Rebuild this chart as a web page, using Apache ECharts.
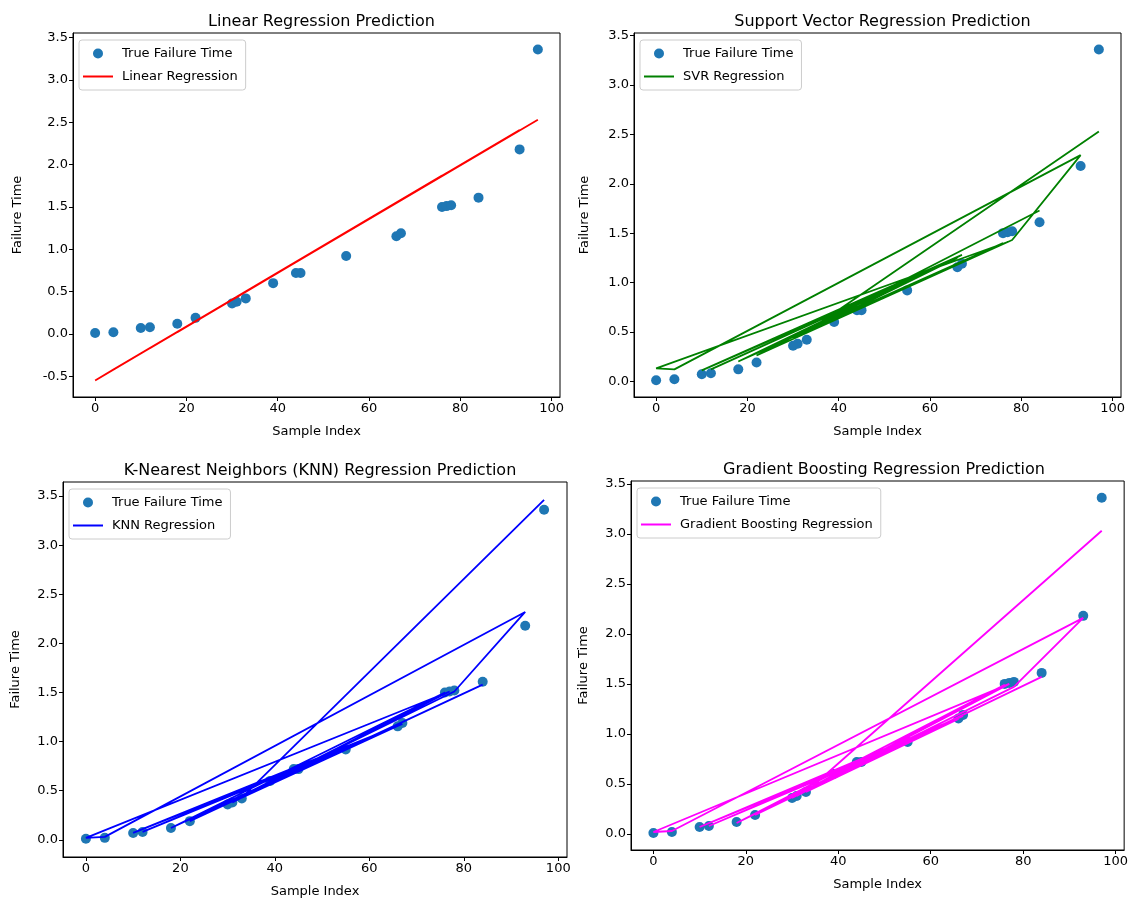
<!DOCTYPE html>
<html>
<head>
<meta charset="utf-8">
<script src="https://cdn.jsdelivr.net/npm/echarts@6.0.0/dist/echarts.min.js"></script>
<style>
  html, body { margin: 0; padding: 0; background: #fff; }
  #chart { width: 1131px; height: 902px; }
</style>
</head>
<body>
<div id="chart"></div>
<script>
// test samples, in the order the model predictions were plotted
const sampleIndex = [97, 33, 66, 12, 55, 10, 67, 39, 45, 18, 76, 31, 44, 30, 77, 0, 4, 93, 78, 22, 84];
const trueTime    = [3.36, 0.42, 1.155, 0.08, 0.92, 0.07, 1.19, 0.60, 0.72, 0.12, 1.50, 0.38, 0.72, 0.36, 1.51, 0.01, 0.02, 2.18, 1.52, 0.19, 1.61];
const linearPred  = [2.53, 0.50, 1.55, -0.17, 1.20, -0.23, 1.58, 0.69, 0.88, 0.02, 1.87, 0.44, 0.85, 0.40, 1.90, -0.55, -0.42, 2.41, 1.93, 0.15, 2.12];
const svrPred     = [2.53, 0.50, 1.25, 0.12, 1.02, 0.11, 1.28, 0.66, 0.80, 0.20, 1.40, 0.46, 0.77, 0.44, 1.41, 0.13, 0.12, 2.29, 1.43, 0.26, 1.73];
const knnPred     = [3.46, 0.43, 1.16, 0.08, 0.93, 0.07, 1.18, 0.60, 0.72, 0.12, 1.50, 0.38, 0.72, 0.37, 1.51, 0.02, 0.03, 2.32, 1.51, 0.19, 1.58];
const gbPred      = [3.03, 0.42, 1.15, 0.08, 0.92, 0.07, 1.18, 0.60, 0.72, 0.11, 1.49, 0.38, 0.72, 0.36, 1.50, 0.02, 0.03, 2.16, 1.47, 0.19, 1.57];

const xTicks = [0, 20, 40, 60, 80, 100];
const yTicksLinear = [-0.5, 0, 0.5, 1, 1.5, 2, 2.5, 3, 3.5];
const yTicks = [0, 0.5, 1, 1.5, 2, 2.5, 3, 3.5];

const titles = [
  "Linear Regression Prediction",
  "Support Vector Regression Prediction",
  "K-Nearest Neighbors (KNN) Regression Prediction",
  "Gradient Boosting Regression Prediction"
];
const modelNames = ["Linear Regression", "SVR Regression", "KNN Regression", "Gradient Boosting Regression"];
const modelColors = ["#ff0000", "#008000", "#0000ff", "#ff00ff"];
const preds = [linearPred, svrPred, knnPred, gbPred];

const FONT = "DejaVu Sans";
const LINE_ICON = "path://M0,0 L30,0 L30,2 L0,2 Z";

const grids = [
  { left: 73, top: 33, width: 487, height: 364 },
  { left: 634, top: 33, width: 487, height: 364 },
  { left: 63, top: 482, width: 504, height: 375 },
  { left: 631, top: 481, width: 496, height: 369 }
];
const yRanges = [[-0.745, 3.555], [-0.16, 3.5275], [-0.175, 3.643], [-0.16, 3.5275]];
const yNameGaps = [49, 43, 41, 41];

const chart = echarts.init(document.getElementById("chart"));

const option = {
  animation: false,
  backgroundColor: "#fff",
  textStyle: { fontFamily: FONT },
  title: [],
  grid: [],
  xAxis: [],
  yAxis: [],
  legend: [],
  series: []
};

grids.forEach((g, i) => {
  option.grid.push(Object.assign({ show: true, borderColor: "#000", borderWidth: 1, backgroundColor: "transparent" }, g));

  option.title.push({
    text: titles[i],
    left: g.left + g.width / 2,
    top: g.top - 24,
    textAlign: "center",
    textStyle: { fontFamily: FONT, fontSize: 16, fontWeight: "normal", color: "#000" }
  });

  option.xAxis.push({
    type: "value",
    gridIndex: i,
    min: -4.85,
    max: 101.85,
    name: "Sample Index",
    nameLocation: "middle",
    nameGap: 28,
    nameTextStyle: { fontFamily: FONT, fontSize: 13, color: "#000" },
    axisLine: { show: true, onZero: false, lineStyle: { color: "#000", width: 1 } },
    axisTick: { show: true, length: 4, lineStyle: { color: "#000" }, customValues: xTicks },
    axisLabel: { fontFamily: FONT, fontSize: 13, color: "#000", margin: 5, customValues: xTicks },
    splitLine: { show: false }
  });

  const ticks = i === 0 ? yTicksLinear : yTicks;
  option.yAxis.push({
    type: "value",
    gridIndex: i,
    min: yRanges[i][0],
    max: yRanges[i][1],
    name: "Failure Time",
    nameLocation: "middle",
    nameGap: yNameGaps[i],
    nameTextStyle: { fontFamily: FONT, fontSize: 13, color: "#000" },
    axisLine: { show: true, onZero: false, lineStyle: { color: "#000", width: 1 } },
    axisTick: { show: true, length: 4, lineStyle: { color: "#000" }, customValues: ticks },
    axisLabel: {
      fontFamily: FONT, fontSize: 13, color: "#000", margin: 5, customValues: ticks,
      formatter: v => v.toFixed(1)
    },
    splitLine: { show: false }
  });

  option.legend.push({
    show: true,
    orient: "vertical",
    left: g.left + 6,
    top: g.top + 7,
    data: [
      { name: "True Failure Time", icon: "circle" },
      { name: modelNames[i], icon: LINE_ICON }
    ],
    itemWidth: 30,
    itemHeight: 10,
    itemGap: 10,
    padding: [7, 8, 7, 4],
    backgroundColor: "rgba(255,255,255,0.8)",
    borderColor: "#cccccc",
    borderWidth: 1,
    borderRadius: 3,
    selectedMode: false,
    textStyle: { fontFamily: FONT, fontSize: 13, color: "#000", padding: [0, 0, 0, 4] }
  });

  option.series.push({
    name: "True Failure Time",
    type: "scatter",
    xAxisIndex: i,
    yAxisIndex: i,
    symbol: "circle",
    symbolSize: 10,
    itemStyle: { color: "#1f77b4", opacity: 1 },
    data: sampleIndex.map((x, k) => [x, trueTime[k]]),
    z: 2
  });

  option.series.push({
    name: modelNames[i],
    type: "line",
    xAxisIndex: i,
    yAxisIndex: i,
    symbol: "none",
    showSymbol: false,
    lineStyle: { color: modelColors[i], width: 1.8 },
    itemStyle: { color: modelColors[i] },
    data: sampleIndex.map((x, k) => [x, preds[i][k]]),
    z: 3
  });
});

chart.setOption(option);
</script>
</body>
</html>
